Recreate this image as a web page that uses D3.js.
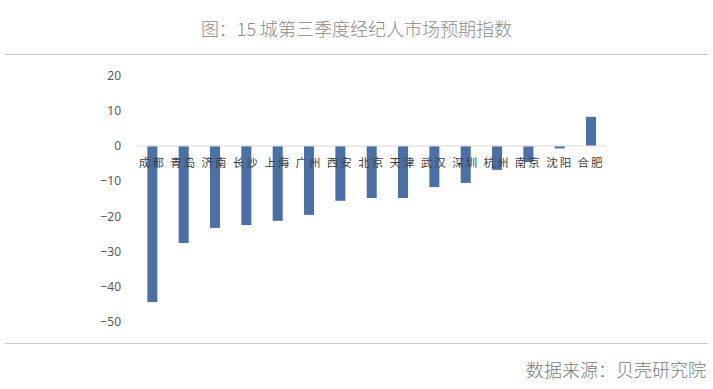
<!DOCTYPE html>
<html>
<head>
<meta charset="utf-8">
<script src="https://cdn.jsdelivr.net/npm/d3@7"></script>
<style>
  body { margin: 0; background: #fff; }
  text { font-family: "Noto Sans CJK SC", "Noto Sans", sans-serif; }
</style>
</head>
<body>
<div id="chart"></div>
<script>
// city names and index values
const cities = ["成都", "青岛", "济南", "长沙", "上海", "广州", "西安", "北京",
                "天津", "武汉", "深圳", "杭州", "南京", "沈阳", "合肥"];
const values = [-44.4, -27.6, -23.3, -22.5, -21.3, -19.6, -15.6, -14.8,
                -14.8, -11.7, -10.5, -6.8, -4.6, -0.7, 8.3];
const yTicks = [20, 10, 0, -10, -20, -30, -40, -50];

const titleText = "图：15 城第三季度经纪人市场预期指数";
const sourceText = "数据来源：贝壳研究院";

function drawChart(parentElem) {
    let width = 713, height = 389;

    let svg = d3.select(parentElem).append("svg")
        .attr("width", width)
        .attr("height", height);

    // title and separator lines
    svg.append("text")
        .attr("x", width / 2)
        .attr("y", 36)
        .attr("text-anchor", "middle")
        .style("font-size", "18px")
        .style("font-weight", 300)
        .attr("fill", "#8a8a8a")
        .text(titleText);

    svg.append("line")
        .attr("x1", 5).attr("x2", 708)
        .attr("y1", 54.5).attr("y2", 54.5)
        .attr("stroke", "#c8c8c8");

    svg.append("line")
        .attr("x1", 5).attr("x2", 708)
        .attr("y1", 343.5).attr("y2", 343.5)
        .attr("stroke", "#c8c8c8");

    svg.append("text")
        .attr("x", 706)
        .attr("y", 377)
        .attr("text-anchor", "end")
        .style("font-size", "18px")
        .style("font-weight", 300)
        .attr("fill", "#7a7a7a")
        .text(sourceText);

    // scales
    let xScale = d3.scaleBand().domain(cities).range([136.7, 606.7]).paddingInner(0.68).paddingOuter(0.34);
    let yScale = d3.scaleLinear().domain([-50, 20]).range([321.7, 75.7]);

    // y axis labels
    let yAxis = d3.axisLeft(yScale).tickValues(yTicks).tickSize(0).tickPadding(0)
        .tickFormat(d3.format("d"));
    let yG = svg.append("g")
        .attr("transform", "translate(121, 0)")
        .call(yAxis);
    yG.select(".domain").remove();
    yG.selectAll("text")
        .style("font-size", "12px")
        .style("font-family", "'Noto Sans', sans-serif")
        .attr("fill", "#595959");

    // bars
    svg.selectAll(".bar")
        .data(values)
        .enter().append("rect")
        .attr("class", "bar")
        .attr("x", (d, i) => xScale(cities[i]))
        .attr("y", d => yScale(Math.max(0, d)))
        .attr("width", xScale.bandwidth())
        .attr("height", d => Math.abs(yScale(d) - yScale(0)))
        .attr("fill", "#4b70a6");

    // zero line
    svg.append("line")
        .attr("x1", 136.7).attr("x2", 606.7)
        .attr("y1", yScale(0)).attr("y2", yScale(0))
        .attr("stroke", "#d9d9d9");

    // category labels, drawn over the bars just below the zero line
    svg.selectAll(".cat")
        .data(cities)
        .enter().append("text")
        .attr("class", "cat")
        .attr("x", d => xScale(d) + xScale.bandwidth() / 2)
        .attr("y", yScale(0) + 21)
        .attr("text-anchor", "middle")
        .style("font-size", "11.5px")
        .style("letter-spacing", "2px")
        .attr("fill", "#404040")
        .text(d => d);
}

drawChart("#chart");
</script>
</body>
</html>
